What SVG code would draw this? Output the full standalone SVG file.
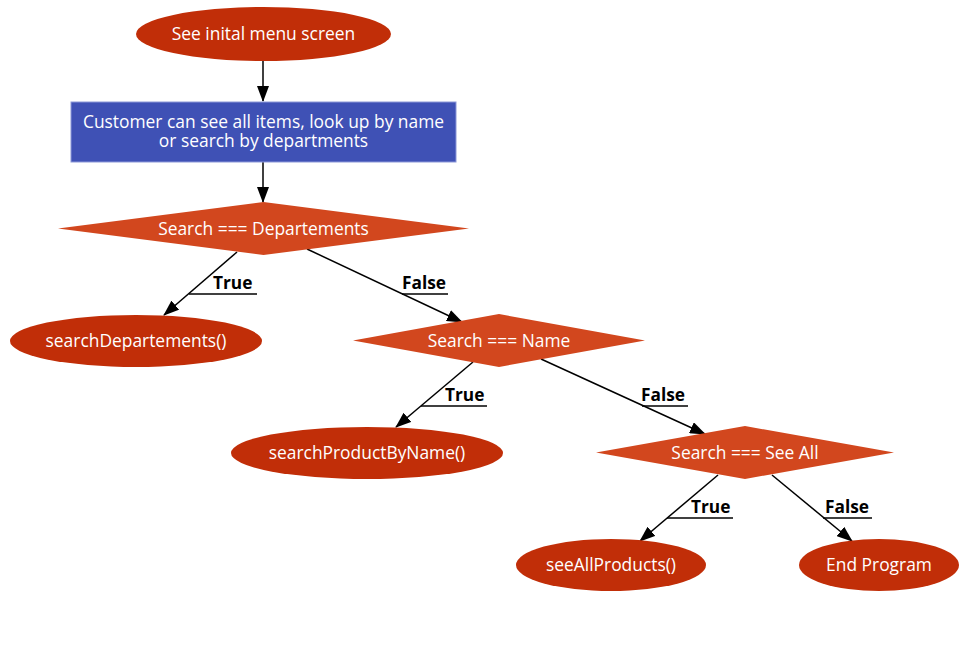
<svg xmlns="http://www.w3.org/2000/svg" width="974" height="653" viewBox="0 0 974 653">
<defs>
<marker id="arr" markerUnits="userSpaceOnUse" markerWidth="16" markerHeight="12" refX="15" refY="6" orient="auto">
<path d="M0,0 L16,6 L0,12 Z" fill="#000"/>
</marker>
<style>
.ell{fill:#C12E08;}
.dia{fill:#D2471E;}
.box{fill:#3F51B5;stroke:#8C98D8;stroke-width:1;}
.nt{font-family:"Open Sans","Liberation Sans",sans-serif;font-size:17.4px;fill:#fff;text-anchor:middle;}
.lb{font-family:"Open Sans","Liberation Sans",sans-serif;font-size:17.3px;font-weight:bold;fill:#000;}
.edge{stroke:#000;stroke-width:1.5;fill:none;marker-end:url(#arr);}
.ul{stroke:#000;stroke-width:1.5;}
</style>
</defs>
<rect width="974" height="653" fill="#fff"/>
<g id="connectors">
<line class="edge" x1="263" y1="61" x2="263" y2="101"/>
<line class="edge" x1="263" y1="162" x2="263" y2="202"/>
<line class="edge" x1="237" y1="252" x2="164" y2="315"/>
<line class="ul" x1="189" y1="294" x2="257" y2="294"/>
<text class="lb" x="213" y="288.5">True</text>
<line class="edge" x1="307" y1="249" x2="462" y2="322"/>
<line class="ul" x1="402" y1="294" x2="448" y2="294"/>
<text class="lb" x="402" y="288.5">False</text>
<line class="edge" x1="473" y1="362" x2="396" y2="427"/>
<line class="ul" x1="421" y1="406" x2="487" y2="406"/>
<text class="lb" x="445" y="400.5">True</text>
<line class="edge" x1="541" y1="359" x2="705" y2="434"/>
<line class="ul" x1="642" y1="406" x2="688" y2="406"/>
<text class="lb" x="641" y="400.5">False</text>
<line class="edge" x1="718" y1="475" x2="640" y2="541"/>
<line class="ul" x1="667" y1="518" x2="733" y2="518"/>
<text class="lb" x="691" y="512.5">True</text>
<line class="edge" x1="772" y1="475" x2="852" y2="541"/>
<line class="ul" x1="823" y1="518" x2="872" y2="518"/>
<text class="lb" x="825" y="512.5">False</text>
</g>
<g id="start">
<ellipse class="ell" cx="263.5" cy="34" rx="127.5" ry="27"/>
<text class="nt" x="263.5" y="39.5">See inital menu screen</text>
</g>
<g id="menu">
<rect class="box" x="71" y="102" width="385" height="60"/>
<text class="nt" x="263.5" y="127"><tspan x="263.5" y="127.5">Customer can see all items, look up by name</tspan><tspan x="263.5" y="146.5">or search by departments</tspan></text>
</g>
<g id="dec-dept">
<polygon class="dia" points="263.5,202 469,228.5 263.5,255 58,228.5"/>
<text class="nt" x="263.5" y="234.5">Search === Departements</text>
</g>
<g id="search-dept">
<ellipse class="ell" cx="136" cy="341" rx="126" ry="26"/>
<text class="nt" x="136" y="346.5">searchDepartements()</text>
</g>
<g id="dec-name">
<polygon class="dia" points="499,314 645,340.5 499,367 353,340.5"/>
<text class="nt" x="499" y="346.5">Search === Name</text>
</g>
<g id="search-name">
<ellipse class="ell" cx="367" cy="453" rx="136" ry="26"/>
<text class="nt" x="367" y="458.5">searchProductByName()</text>
</g>
<g id="dec-all">
<polygon class="dia" points="745,426 894,452.5 745,479 596,452.5"/>
<text class="nt" x="745" y="458.5">Search === See All</text>
</g>
<g id="see-all">
<ellipse class="ell" cx="611" cy="565" rx="95" ry="26"/>
<text class="nt" x="611" y="570.5">seeAllProducts()</text>
</g>
<g id="end">
<ellipse class="ell" cx="879" cy="565" rx="80" ry="26"/>
<text class="nt" x="879" y="570.5">End Program</text>
</g>
</svg>
